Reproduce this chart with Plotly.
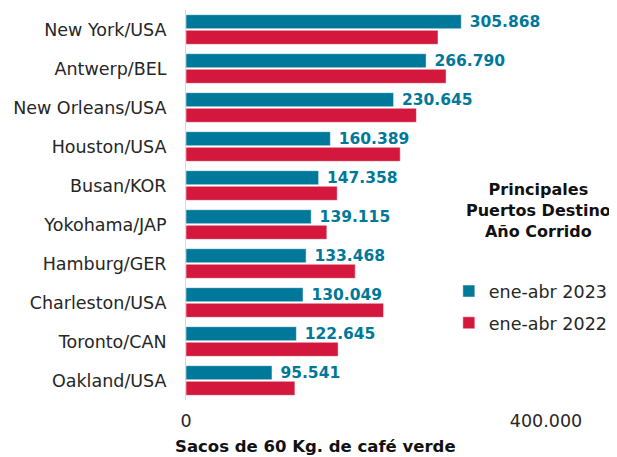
import plotly.graph_objects as go

ports = [
    "New York/USA", "Antwerp/BEL", "New Orleans/USA", "Houston/USA",
    "Busan/KOR", "Yokohama/JAP", "Hamburg/GER", "Charleston/USA",
    "Toronto/CAN", "Oakland/USA",
]
sacos_2023 = [305868, 266790, 230645, 160389, 147358, 139115, 133468, 130049, 122645, 95541]
sacos_2022 = [280000, 289000, 256000, 238000, 168000, 156500, 188000, 219500, 169000, 121000]

TEAL = "#00789A"
RED = "#D4173C"
FONT = "DejaVu Sans"

fig = go.Figure()
fig.add_trace(go.Bar(
    y=ports, x=sacos_2023, orientation="h", name="ene-abr 2023",
    legendgroup="a",
    marker_color=TEAL,
    texttemplate="\u00a0%{x:,.0f}", textposition="outside",
    constraintext="none",
    textfont=dict(color=TEAL, size=15.5, family=FONT, weight="bold"),
    cliponaxis=False,
))
fig.add_trace(go.Bar(
    y=ports, x=sacos_2022, orientation="h", name="ene-abr 2022",
    legendgroup="b",
    marker_color=RED,
))

fig.update_yaxes(
    autorange="reversed", automargin=False,
    showline=True, linecolor="#d9d9d9", linewidth=1,
    showgrid=False, ticks="",
    ticklabelstandoff=15,
    tickfont=dict(size=17.5, color="#262626", family=FONT),
)
fig.update_xaxes(
    range=[0, 450000], automargin=False,
    tickvals=[0, 400000], tickformat=",d",
    showgrid=False, zeroline=False, showline=False,
    ticklabelstandoff=8,
    tickfont=dict(size=17.5, color="#262626", family=FONT),
)
# the page body adds an 8px offset, so the figure is 8px smaller than the window
fig.update_layout(
    width=609, height=449,
    template="plotly_white",
    separators=",.",
    barmode="group",
    bargap=0.2,
    bargroupgap=0.1,
    margin=dict(l=178, r=26, t=2, b=57),
    font=dict(family=FONT),
    legend=dict(
        x=0.649, y=0.238, xanchor="left", yanchor="middle",
        font=dict(size=17.5, color="#262626"),
        bgcolor="rgba(0,0,0,0)",
        traceorder="grouped",
        tracegroupgap=6,
    ),
)
fig.add_annotation(
    text="<b>Principales<br>Puertos Destino<br>Año Corrido</b>",
    xref="paper", yref="paper", x=0.870, y=0.487,
    xanchor="center", yanchor="middle",
    showarrow=False, align="center",
    font=dict(size=16, color="#111", family=FONT),
)
fig.add_annotation(
    text="<b>Sacos de 60 Kg. de café verde</b>",
    xref="paper", yref="paper", x=-0.032, y=-0.12,
    xanchor="left", yanchor="middle",
    showarrow=False,
    font=dict(size=16.5, color="#111", family=FONT),
)

fig.write_html("out.html")
